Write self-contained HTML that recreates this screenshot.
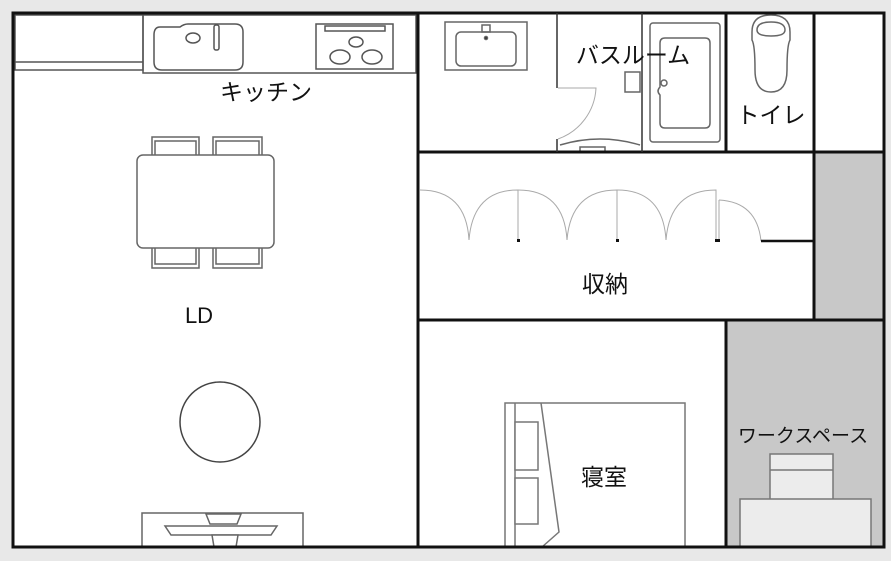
<!DOCTYPE html>
<html><head><meta charset="utf-8"><style>
html,body{margin:0;padding:0;background:#e8e8e8}
svg{display:block}
text{font-family:"Liberation Sans","Noto Sans CJK JP",sans-serif;fill:#111}
</style></head><body>
<svg width="891" height="561" viewBox="0 0 891 561" xmlns="http://www.w3.org/2000/svg">
<rect x="0" y="0" width="891" height="561" fill="#e8e8e8"/>
<rect x="13" y="13" width="871" height="534" fill="#fff"/>
<rect x="814" y="152" width="70" height="168" fill="#c8c8c8"/>
<rect x="726" y="320" width="158" height="227" fill="#c8c8c8"/>
<g fill="none" stroke="#555" stroke-width="1.5">
<rect x="15" y="15" width="128" height="55"/>
<line x1="15" y1="62" x2="143" y2="62"/>
<rect x="143" y="15" width="273" height="58"/>
<path d="M160 27 h20 q4 -3 8 -3 h47 q8 0 8 8 v30 q0 8 -8 8 h-73 q-8 0 -8 -8 v-27 q0 -8 6 -8z"/>
<ellipse cx="193" cy="38" rx="7" ry="5"/>
<rect x="214" y="25" width="5" height="25" rx="2"/>
<rect x="316" y="24" width="77" height="45"/>
<rect x="325" y="26" width="60" height="5"/>
<ellipse cx="356" cy="42" rx="7" ry="5"/>
<ellipse cx="340" cy="57" rx="10" ry="7"/>
<ellipse cx="372" cy="57" rx="10" ry="7"/>
</g>
<g fill="#fff" stroke="#666" stroke-width="1.5">
<rect x="152" y="137" width="47" height="20"/><rect x="155" y="141" width="41" height="16"/>
<rect x="213" y="137" width="49" height="20"/><rect x="216" y="141" width="43" height="16"/>
<rect x="152" y="246" width="47" height="22"/><rect x="155" y="246" width="41" height="18"/>
<rect x="213" y="246" width="49" height="22"/><rect x="216" y="246" width="43" height="18"/>
<rect x="137" y="155" width="137" height="93" rx="6"/>
<circle cx="220" cy="422" r="40" fill="none" stroke="#444"/>
<rect x="142" y="513" width="161" height="34"/>
<path d="M206 514 h35 l-4 10 h-27z" />
<path d="M165 526 h112 l-6 9 h-100z"/>
<path d="M212 535 h26 l-2 12 h-22z"/>
</g>
<g fill="none" stroke="#666" stroke-width="1.5">
<rect x="445" y="22" width="82" height="48"/>
<rect x="456" y="32" width="60" height="34" rx="5"/>
<rect x="482" y="25" width="8" height="7"/>
<circle cx="486" cy="38" r="1.5" fill="#111"/>
<rect x="650" y="23" width="70" height="119" rx="3"/>
<path d="M665 38 h40 q5 0 5 5 v80 q0 5 -5 5 h-40 q-5 0 -5 -5 v-28 q-4 -4 0 -8 v-44 q0 -5 5 -5z"/>
<circle cx="664" cy="83" r="3"/>
<rect x="625" y="72" width="15" height="20"/>
<path d="M752 32 q0 -17 19 -17 q19 0 19 17 v8 q-3 5 -3 30 q0 22 -16 22 q-16 0 -16 -22 q0 -25 -3 -30z"/>
<path d="M757 30 q0 -8 14 -8 q14 0 14 8 q0 6 -14 6 q-14 0 -14 -6z"/>
<path d="M560 145 q40 -12 80 0 M580 152 v-5 h25 v5"/>
</g>
<path d="M558 88 h38 a57 57 0 0 1 -38 51" fill="none" stroke="#aaa" stroke-width="1"/>
<g fill="none" stroke="#aaa" stroke-width="1">
<path d="M420 190 q46 0 49 50"/>
<path d="M469 240 q4 -50 49 -50 v50"/>
<path d="M518 190 q46 0 49 50"/>
<path d="M567 240 q4 -50 50 -50 v50"/>
<path d="M617 190 q46 0 49 50"/>
<path d="M666 240 q4 -50 50 -50 v50"/>
<path d="M719 200 q38 2 42 41"/>
<line x1="719" y1="200" x2="719" y2="241"/>
</g>
<g fill="#111"><rect x="517" y="239" width="3" height="3"/><rect x="616" y="239" width="3" height="3"/><rect x="715" y="239" width="5" height="3"/></g>
<g fill="#fff" stroke="#777" stroke-width="1.5">
<rect x="505" y="403" width="180" height="144"/>
<line x1="515" y1="403" x2="515" y2="547"/>
<rect x="515" y="422" width="23" height="48"/>
<rect x="515" y="478" width="23" height="46"/>
<path d="M541 403 L559 532 L542 547" fill="none"/>
</g>
<g fill="#ececec" stroke="#777" stroke-width="1.5">
<rect x="770" y="454" width="63" height="46"/>
<line x1="770" y1="470" x2="833" y2="470"/>
<rect x="740" y="499" width="131" height="48"/>
</g>
<g fill="none" stroke="#111" stroke-width="3">
<rect x="13" y="13" width="871" height="534"/>
<line x1="418" y1="13" x2="418" y2="547"/>
<line x1="418" y1="152" x2="884" y2="152"/>
<line x1="418" y1="320" x2="884" y2="320"/>
<line x1="726" y1="13" x2="726" y2="152"/>
<line x1="814" y1="13" x2="814" y2="320"/>
<line x1="726" y1="320" x2="726" y2="547"/>
<line x1="761" y1="241" x2="814" y2="241" stroke-width="2.5"/>
</g>
<g stroke="#333" stroke-width="1.5" fill="none">
<line x1="557" y1="13" x2="557" y2="88"/>
<line x1="557" y1="139" x2="557" y2="152"/>
<line x1="642" y1="13" x2="642" y2="152"/>
</g>
<text x="266" y="100" font-size="23" text-anchor="middle">キッチン</text>
<text x="199" y="323" font-size="22" text-anchor="middle">LD</text>
<text x="633" y="63" font-size="23" text-anchor="middle">バスルーム</text>
<text x="771" y="123" font-size="23" text-anchor="middle">トイレ</text>
<text x="605" y="292" font-size="23" text-anchor="middle">収納</text>
<text x="604" y="485" font-size="23" text-anchor="middle">寝室</text>
<text x="803" y="442" font-size="19" text-anchor="middle">ワークスペース</text>
</svg>
</body></html>
